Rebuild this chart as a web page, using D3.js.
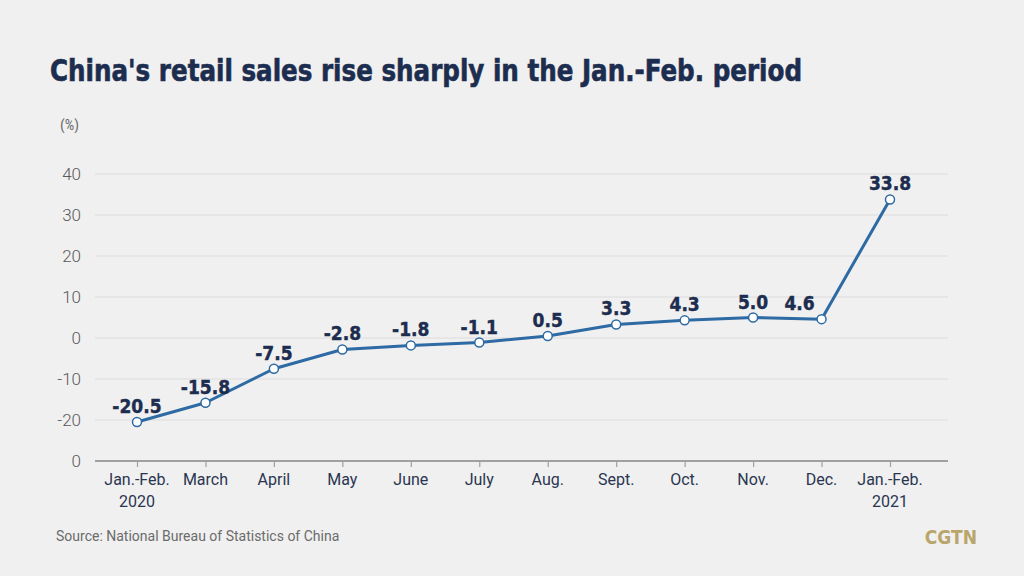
<!DOCTYPE html>
<html lang="en">
<head>
    <meta charset="UTF-8">
    <title>China's retail sales</title>
    <script src="https://cdn.jsdelivr.net/npm/d3@7"></script>
    <style>
        body { margin: 0; background: #f0f0f0; }
        svg { display: block; }
    </style>
</head>
<body>
<script>
    // data
    var months = ["Jan.-Feb.|2020", "March", "April", "May", "June", "July", "Aug.",
                  "Sept.", "Oct.", "Nov.", "Dec.", "Jan.-Feb.|2021"];
    var growth = [-20.5, -15.8, -7.5, -2.8, -1.8, -1.1, 0.5, 3.3, 4.3, 5.0, 4.6, 33.8];
    var yTicks = [-30, -20, -10, 0, 10, 20, 30, 40];
    var yTickLabels = ["0", "-20", "-10", "0", "10", "20", "30", "40"];

    var w = 1024, h = 576;
    var navy = "#1c2d4f";

    var svg = d3.select("body").append("svg")
        .attr("width", w).attr("height", h);

    svg.append("rect").attr("width", w).attr("height", h).attr("fill", "#f0f0f0");

    svg.append("text")
        .attr("x", 50).attr("y", 81)
        .attr("font-family", "DejaVu Sans Condensed, DejaVu Sans")
        .attr("font-weight", "bold")
        .attr("font-size", "30px")
        .attr("fill", navy)
        .attr("stroke", navy).attr("stroke-width", 0.6)
        .attr("textLength", 752)
        .attr("lengthAdjust", "spacingAndGlyphs")
        .text("China's retail sales rise sharply in the Jan.-Feb. period");

    svg.append("text")
        .attr("x", 60).attr("y", 130)
        .attr("font-family", "Roboto Condensed, Liberation Sans Narrow, Roboto")
        .attr("font-size", "15px")
        .attr("fill", "#6b6b6b")
        .text("(%)");

    var x = d3.scalePoint().domain(months).range([137, 890]);
    var y = d3.scaleLinear().domain([-30, 40]).range([461, 174]);

    // grid
    svg.append("g").selectAll("line")
        .data(yTicks.filter(function(d) { return d > -30; }))
        .enter().append("line")
        .attr("x1", 95).attr("x2", 948)
        .attr("y1", function(d) { return y(d); })
        .attr("y2", function(d) { return y(d); })
        .attr("stroke", "#dcdcdc").attr("stroke-width", 1);

    // y labels
    svg.append("g").selectAll("text")
        .data(yTicks)
        .enter().append("text")
        .attr("x", 81)
        .attr("y", function(d) { return y(d) + 6; })
        .attr("text-anchor", "end")
        .attr("font-family", "Roboto")
        .attr("font-weight", "300")
        .attr("font-size", "17px")
        .attr("fill", "#5a5a5a")
        .text(function(d, i) { return yTickLabels[i]; });

    // x axis
    var xAxis = d3.axisBottom(x).tickSize(6).tickFormat("");
    var gx = svg.append("g").attr("transform", "translate(0," + y(-30) + ")").call(xAxis);
    gx.select(".domain").attr("d", "M95,0H948").attr("stroke", "#a0a0a0").attr("stroke-width", 2);
    gx.selectAll(".tick line").attr("stroke", "#a0a0a0").attr("stroke-width", 1.2);

    var xl = svg.append("g").selectAll("text")
        .data(months)
        .enter().append("text")
        .attr("x", function(d) { return x(d); })
        .attr("y", 485)
        .attr("text-anchor", "middle")
        .attr("font-family", "Roboto")
        .attr("font-size", "16px")
        .attr("fill", "#2a3650");
    xl.each(function(d) {
        var parts = d.split("|");
        var t = d3.select(this);
        parts.forEach(function(p, i) {
            t.append("tspan").attr("x", x(d)).attr("dy", i === 0 ? 0 : 22).text(p);
        });
    });

    // line
    var line = d3.line()
        .x(function(d, i) { return x(months[i]); })
        .y(function(d) { return y(d); });

    svg.append("path")
        .datum(growth)
        .attr("d", line)
        .attr("fill", "none")
        .attr("stroke", "#2e6aa3")
        .attr("stroke-width", 3)
        .attr("stroke-linejoin", "round");

    svg.append("g").selectAll("circle")
        .data(growth)
        .enter().append("circle")
        .attr("cx", function(d, i) { return x(months[i]); })
        .attr("cy", function(d) { return y(d); })
        .attr("r", 4.5)
        .attr("fill", "#ffffff")
        .attr("stroke", "#2e6aa3")
        .attr("stroke-width", 1.5);

    svg.append("g").selectAll("text")
        .data(growth)
        .enter().append("text")
        .attr("x", function(d, i) { return x(months[i]) + (i === 10 ? -22 : 0); })
        .attr("y", function(d) { return y(d) - 9; })
        .attr("text-anchor", "middle")
        .attr("font-family", "DejaVu Sans Condensed, DejaVu Sans")
        .attr("font-weight", "bold")
        .attr("font-size", "19px")
        .attr("fill", navy)
        .attr("stroke", navy).attr("stroke-width", 0.4)
        .text(function(d) { return d.toFixed(1); });

    svg.append("text")
        .attr("x", 56).attr("y", 541)
        .attr("font-family", "Roboto")
        .attr("font-size", "14px")
        .attr("fill", "#6b6b6b")
        .text("Source: National Bureau of Statistics of China");

    svg.append("text")
        .attr("x", 977).attr("y", 544)
        .attr("text-anchor", "end")
        .attr("font-family", "DejaVu Sans Condensed, DejaVu Sans")
        .attr("font-weight", "bold")
        .attr("font-size", "19px")
        .attr("fill", "#b8a66c")
        .text("CGTN");
</script>
</body>
</html>
